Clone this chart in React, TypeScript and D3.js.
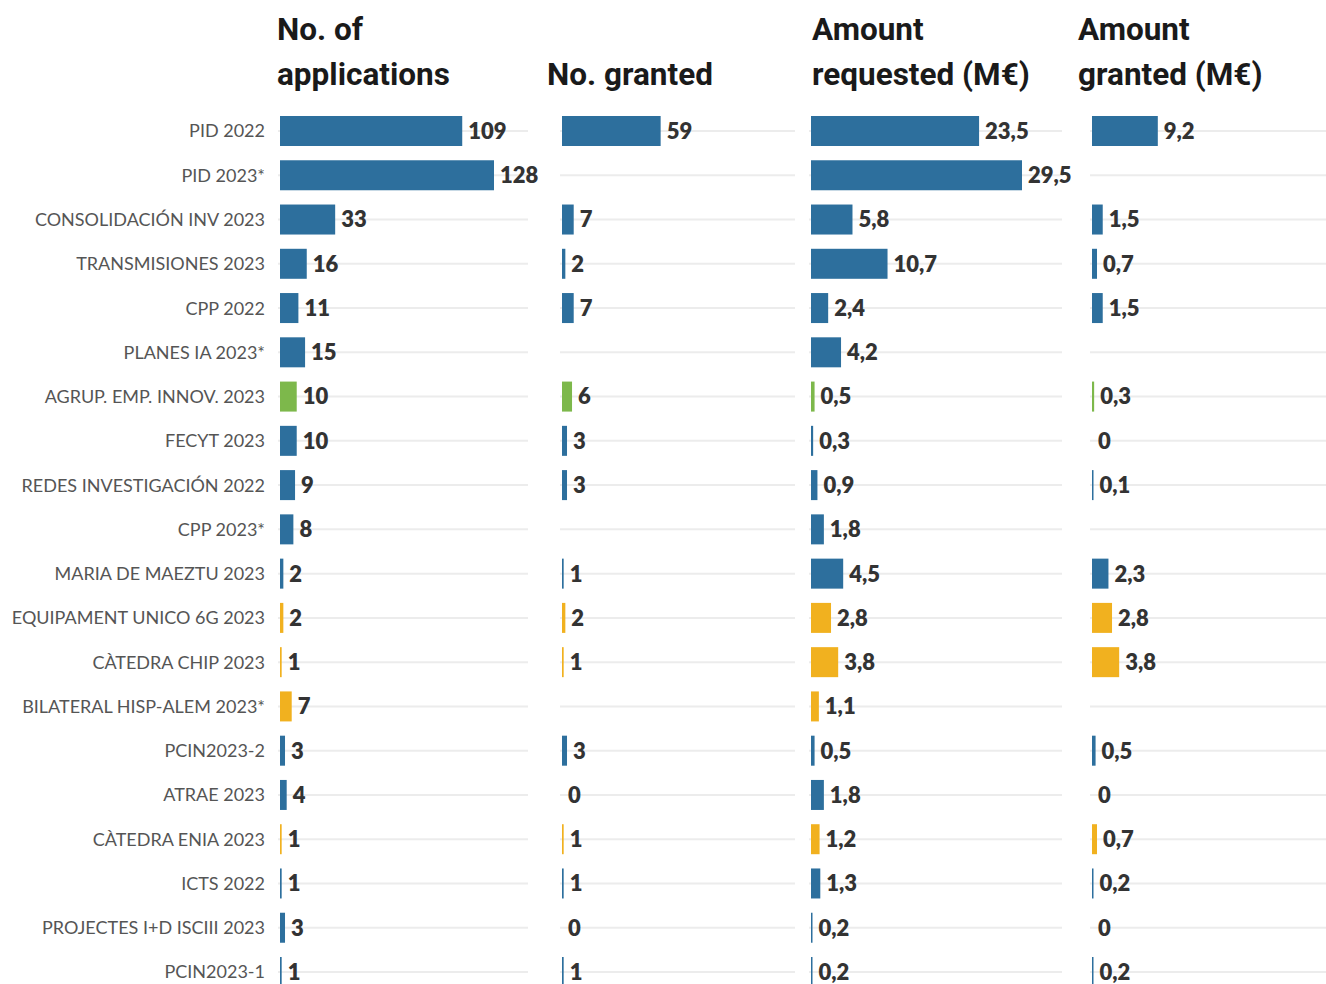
import React from "react";
import * as d3 from "d3";

// convocatorias, in chart order
const programmes = [
  "PID 2022",
  "PID 2023*",
  "CONSOLIDACIÓN INV 2023",
  "TRANSMISIONES 2023",
  "CPP 2022",
  "PLANES IA 2023*",
  "AGRUP. EMP. INNOV. 2023",
  "FECYT 2023",
  "REDES INVESTIGACIÓN 2022",
  "CPP 2023*",
  "MARIA DE MAEZTU 2023",
  "EQUIPAMENT UNICO 6G 2023",
  "CÀTEDRA CHIP 2023",
  "BILATERAL HISP-ALEM 2023*",
  "PCIN2023-2",
  "ATRAE 2023",
  "CÀTEDRA ENIA 2023",
  "ICTS 2022",
  "PROJECTES I+D ISCIII 2023",
  "PCIN2023-1",
];

const groups = [
  "blue", "blue", "blue", "blue", "blue", "blue", "green", "blue", "blue", "blue",
  "blue", "yellow", "yellow", "yellow", "blue", "blue", "yellow", "blue", "blue", "blue",
];

const applications = [109, 128, 33, 16, 11, 15, 10, 10, 9, 8, 2, 2, 1, 7, 3, 4, 1, 1, 3, 1];
const granted = [59, null, 7, 2, 7, null, 6, 3, 3, null, 1, 2, 1, null, 3, 0, 1, 1, 0, 1];
const amountRequested = [23.5, 29.5, 5.8, 10.7, 2.4, 4.2, 0.5, 0.3, 0.9, 1.8, 4.5, 2.8, 3.8, 1.1, 0.5, 1.8, 1.2, 1.3, 0.2, 0.2];
const amountGranted = [9.2, null, 1.5, 0.7, 1.5, null, 0.3, 0, 0.1, null, 2.3, 2.8, 3.8, null, 0.5, 0, 0.7, 0.2, 0, 0.2];

const headers = [
  ["No. of", "applications"],
  ["", "No. granted"],
  ["Amount", "requested (M€)"],
  ["Amount", "granted (M€)"],
];

const colors: Record<string, string> = {
  blue: "#2d6f9d",
  green: "#7db84b",
  yellow: "#f1b11f",
};

const W = 1326;
const H = 984;

const countScale = d3.scaleLinear().domain([0, 128]).range([0, 214]);
const amountScale = d3.scaleLinear().domain([0, 29.5]).range([0, 211]);

const columns = [
  { values: applications, x0: 280, x1: 528, head: 277, scale: countScale, fmt: (v: number) => `${v}` },
  { values: granted, x0: 562, x1: 795, head: 547, scale: countScale, fmt: (v: number) => `${v}` },
  { values: amountRequested, x0: 811, x1: 1062, head: 812, scale: amountScale, fmt: (v: number) => `${v}`.replace(".", ",") },
  { values: amountGranted, x0: 1092, x1: 1326, head: 1078, scale: amountScale, fmt: (v: number) => `${v}`.replace(".", ",") },
];

const y = d3.scalePoint<string>().domain(programmes).range([131, 972]);
const barH = 30;

export default function App() {
  return (
    <svg width={W} height={H} style={{ position: "absolute", left: 0, top: 0, background: "#fff" }}>
      {headers.map((h, i) => (
        <g key={i} fontFamily="Roboto" fontWeight="700" fontSize={31.5} fill="#1a1a1a">
          <text x={columns[i].head} y={40}>{h[0]}</text>
          <text x={columns[i].head} y={85}>{h[1]}</text>
        </g>
      ))}

      {programmes.map((p, r) => (
        <g key={p}>
          {columns.map((c, ci) => (
            <line key={ci} x1={c.x0 - 2} x2={c.x1} y1={y(p)!} y2={y(p)!} stroke="#ececec" strokeWidth={2} />
          ))}
          <text
            x={265}
            y={y(p)!}
            dy="0.36em"
            textAnchor="end"
            fontFamily="Lato"
            fontSize={18}
            fill="#555"
          >
            {p}
          </text>
          {columns.map((c, ci) => {
            const v = c.values[r];
            if (v === null || v === undefined) return null;
            const w = v > 0 ? Math.max(c.scale(v), 1.5) : 0;
            return (
              <g key={ci}>
                {v > 0 && (
                  <rect x={c.x0} y={y(p)! - barH / 2} width={w} height={barH} fill={colors[groups[r]]} />
                )}
                <text
                  x={c.x0 + w + 6}
                  y={y(p)!}
                  dy="0.36em"
                  fontFamily="Lato"
                  fontWeight="800"
                  fontSize={22}
                  fill="#333"
                >
                  {c.fmt(v)}
                </text>
              </g>
            );
          })}
        </g>
      ))}
    </svg>
  );
}
